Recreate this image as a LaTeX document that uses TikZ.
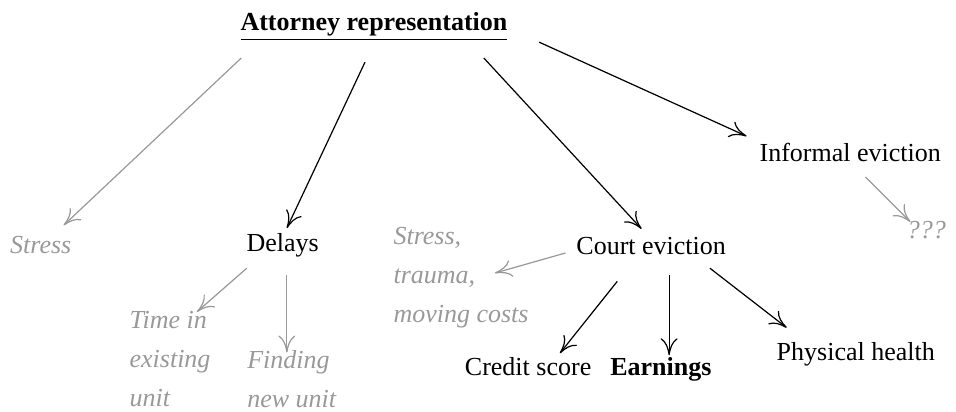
\documentclass[tikz,border=0pt]{standalone}
\usepackage{fontspec}
\setmainfont{Liberation Serif}[Scale=1.07]
\usetikzlibrary{arrows.meta}
\definecolor{softgray}{gray}{0.6}

\begin{document}
\begin{tikzpicture}[
    font=\normalsize,
    outcome/.style={inner sep=2pt},
    note/.style={inner sep=1pt, text=softgray, align=left, font=\itshape\linespread{1.34}\selectfont},
    arrow/.style={-{Computer Modern Rightarrow[length=7pt,width=7pt]}, line width=0.5pt},
    grayarrow/.style={arrow, draw=softgray}
]
    \useasboundingbox (-5.41,0.35) rectangle (8.42,-5.60);

    % Treatment
    \node[outcome] (title) at (0,-0.04) {\underline{\textbf{Attorney representation}}};

    % First level
    \node[note] (stress) at (-4.82,-3.20) {Stress};
    \node[outcome] (delays) at (-1.32,-3.20) {Delays};
    \node[outcome] (court) at (4.01,-3.21) {Court eviction};
    \node[outcome] (informal) at (6.89,-1.85) {Informal eviction};

    % Second level
    \node[note] (qqq) at (7.99,-2.98) {???};
    \node[note] (timein) at (-2.95,-4.85) {Time in\\existing\\unit};
    \node[note] (finding) at (-1.19,-5.13) {Finding\\new unit};
    \node[note] (strain) at (1.26,-3.67) {Stress,\\trauma,\\moving costs};
    \node[outcome] (credit) at (2.23,-4.95) {Credit score};
    \node[outcome] (earnings) at (4.15,-4.99) {\textbf{Earnings}};
    \node[outcome] (physical) at (6.97,-4.77) {Physical health};

    % Arrows
    \draw[grayarrow] ([shift={(-1.92,-0.45)}]title.center) -- ([shift={(0.33,0.29)}]stress.center);
    \draw[arrow] ([shift={(-0.13,-0.51)}]title.center) -- ([shift={(0.06,0.25)}]delays.center);
    \draw[arrow] ([shift={(1.59,-0.45)}]title.center) -- ([shift={(-0.14,0.25)}]court.center);
    \draw[arrow] ([shift={(2.39,-0.22)}]title.center) -- ([shift={(-1.50,0.23)}]informal.center);
    \draw[grayarrow] ([shift={(0.22,-0.36)}]informal.center) -- ([shift={(-0.23,0.12)}]qqq.center);
    \draw[grayarrow] ([shift={(-0.52,-0.33)}]delays.center) -- ([shift={(0.39,0.69)}]timein.center);
    \draw[grayarrow] ([shift={(0.06,-0.43)}]delays.center) -- ([shift={(-0.07,0.38)}]finding.center);
    \draw[grayarrow] ([shift={(-1.24,-0.10)}]court.center) -- ([shift={(0.49,0.07)}]strain.center);
    \draw[arrow] ([shift={(-0.49,-0.51)}]court.center) -- ([shift={(0.46,0.19)}]credit.center);
    \draw[arrow] ([shift={(0.26,-0.42)}]court.center) -- ([shift={(0.12,0.20)}]earnings.center);
    \draw[arrow] ([shift={(0.85,-0.32)}]court.center) -- ([shift={(-1.00,0.38)}]physical.center);
\end{tikzpicture}
\end{document}
